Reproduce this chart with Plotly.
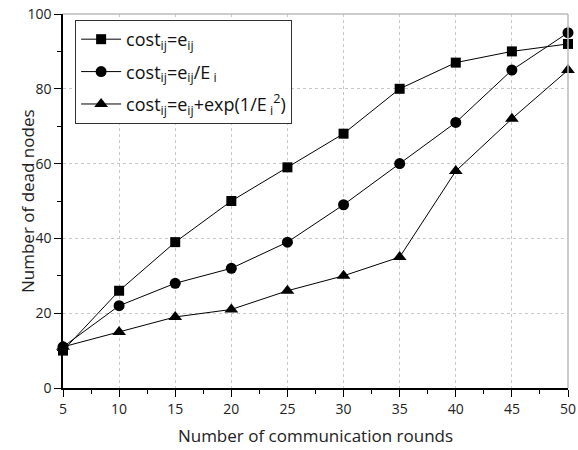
import plotly.graph_objects as go

rounds = [5, 10, 15, 20, 25, 30, 35, 40, 45, 50]
cost_e = [10, 26, 39, 50, 59, 68, 80, 87, 90, 92]
cost_eE = [11, 22, 28, 32, 39, 49, 60, 71, 85, 95]
cost_exp = [11, 15, 19, 21, 26, 30, 35, 58, 72, 85]

names = [
    "cost<sub>ij</sub>=e<sub>ij</sub>",
    "cost<sub>ij</sub>=e<sub>ij</sub>/E<sub> i</sub>",
    "cost<sub>ij</sub>=e<sub>ij</sub>+exp(1/E<sub> i</sub><sup>2</sup>)",
]
symbols = ["square", "circle", "triangle-up"]
sizes = [10, 11, 12]

fig = go.Figure()
for i, (ys, nm, sym, sz) in enumerate(zip([cost_e, cost_eE, cost_exp], names, symbols, sizes)):
    fig.add_trace(go.Scatter(
        x=rounds, y=ys, name=nm, mode="lines+markers",
        legendgroup=f"g{i}",
        line=dict(color="black", width=1),
        marker=dict(symbol=sym, size=sz, color="black"),
        cliponaxis=False,
    ))

font = "Open Sans, DejaVu Sans, sans-serif"
fig.update_layout(
    width=578, height=450,
    margin=dict(l=63, r=10, t=14, b=62),
    paper_bgcolor="white", plot_bgcolor="white",
    font=dict(family=font, color="#222", size=14),
    showlegend=True,
    legend=dict(
        x=0.024, y=0.984, xanchor="left", yanchor="top",
        bordercolor="#333", borderwidth=1, bgcolor="white",
        font=dict(size=18, color="#111"),
        itemwidth=40, traceorder="grouped", tracegroupgap=6,
    ),
    xaxis=dict(
        range=[5, 50], dtick=5, tick0=5, automargin=False,
        showline=True, linecolor="black", linewidth=1.5, mirror=False,
        ticks="outside", ticklen=7, tickcolor="black", tickwidth=1.2,
        minor=dict(ticks="outside", ticklen=4, dtick=2.5, tickcolor="black", showgrid=False),
        showgrid=True, gridcolor="#c8c8c8", griddash="dot", gridwidth=1,
        zeroline=False,
        title=dict(text="Number of communication rounds", font=dict(size=17), standoff=14),
        tickfont=dict(size=14),
    ),
    yaxis=dict(
        range=[0, 100], dtick=20, automargin=False,
        showline=True, linecolor="black", linewidth=1.5, mirror=False,
        ticks="outside", ticklen=7, tickcolor="black", tickwidth=1.2,
        minor=dict(ticks="outside", ticklen=4, dtick=10, tickcolor="black", showgrid=False),
        showgrid=True, gridcolor="#c8c8c8", griddash="dot", gridwidth=1,
        zeroline=False,
        tickfont=dict(size=14),
    ),
    annotations=[
        dict(text="Number of dead nodes", xref="paper", yref="paper",
             x=0, y=0.5, xanchor="center", yanchor="middle", xshift=-36,
             textangle=-90, showarrow=False, font=dict(size=17, color="#222")),
    ],
    shapes=[
        dict(type="line", xref="paper", yref="paper", x0=0, x1=1, y0=1, y1=1,
             line=dict(color="#bbbbbb", width=1.5)),
        dict(type="line", xref="paper", yref="paper", x0=1, x1=1, y0=0, y1=1,
             line=dict(color="#bbbbbb", width=1.5)),
    ],
)

fig.write_html("out.html")
